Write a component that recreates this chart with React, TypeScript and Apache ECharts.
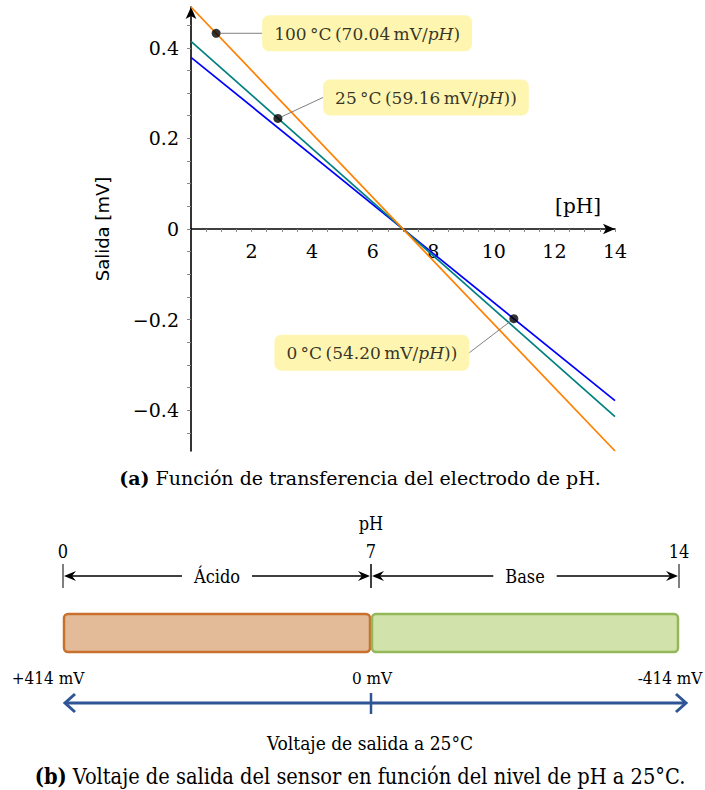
import React, { useEffect, useRef } from 'react';
import * as echarts from 'echarts';

// ---- Data ----
const phEnds = [0, 14];
const salida0C = [0.379, -0.379];
const salida25C = [0.414, -0.414];
const salida100C = [0.49, -0.49];
const seriesNames = ['0 °C', '25 °C', '100 °C'];

const markerPH = [0.83, 2.87, 10.66];
const markerSalida = [0.432, 0.244, -0.198];
const markerLabels = [
  '100\u2009°C\u2009(70.04\u2009mV/{it|pH})',
  '25\u2009°C\u2009(59.16\u2009mV/{it|pH}))',
  '0\u2009°C\u2009(54.20\u2009mV/{it|pH}))',
];

const xTickLabels = [2, 4, 6, 8, 10, 12, 14];
const xTicks = [0.5, 1, 1.5, 2, 2.5, 3, 3.5, 4, 4.5, 5, 5.5, 6, 6.5, 7, 7.5, 8, 8.5, 9, 9.5, 10, 10.5, 11, 11.5, 12, 12.5, 13, 13.5, 14];
const yTickLabels = [-0.4, -0.2, 0, 0.2, 0.4];
const yTicks = [-0.45, -0.4, -0.35, -0.3, -0.25, -0.2, -0.15, -0.1, -0.05, 0, 0.05, 0.1, 0.15, 0.2, 0.25, 0.3, 0.35, 0.4, 0.45];

const rangeStart = [0, 7];
const rangeEnd = [7, 14];
const rangeNames = ['Ácido', 'Base'];
const phScaleLabels = [0, 7, 14];
const voltageLabels = ['+414 mV', '0 mV', '-414 mV'];

// ---- Styles ----
const SERIF = '"DejaVu Serif", serif';
const COND = '"DejaVu Serif Condensed", "DejaVu Serif", serif';
const lineColors = ['#0000ff', '#008080', '#ff8000'];
const labelOffsets = [
  [151, 0],
  [148, -21],
  [-142, 34],
];
const rangeFill = ['#e3bb98', '#d1e2aa'];
const rangeStroke = ['#c8702c', '#94b75a'];

export default function App() {
  const ref = useRef<HTMLDivElement>(null);
  useEffect(() => {
    if (!ref.current) return;
    const chart = echarts.init(ref.current, undefined, { renderer: 'svg' });
    const lineData = [salida0C, salida25C, salida100C];
    const L = 63, R = 679, MID = (L + R) / 2;
    const GT = 7, GH = 444;
    const zeroOffset = GH / 2; // y = 0 lies in the middle of the symmetric range
    const option: any = {
      animation: false,
      grid: [
        { left: 191, top: GT, width: 424, height: GH, outerBoundsMode: 'none' },
        { left: L, top: 614, width: R - L, height: 38, outerBoundsMode: 'none' },
      ],
      xAxis: [
        {
          gridIndex: 0, type: 'value', min: 0, max: 14, position: 'bottom', offset: -zeroOffset,
          axisLine: { onZero: false, lineStyle: { color: '#000', width: 1.6 }, symbol: ['none', 'arrow'], symbolSize: [8, 12] },
          axisTick: { show: true, customValues: xTicks, length: 3, lineStyle: { color: '#888', width: 1 } },
          axisLabel: { customValues: xTickLabels, margin: 12, color: '#000', fontFamily: SERIF, fontSize: 19 },
          splitLine: { show: false },
        },
        {
          gridIndex: 1, type: 'value', min: 0, max: 14, position: 'top', offset: 38,
          axisLine: { show: false }, axisTick: { show: false }, splitLine: { show: false },
          axisLabel: { customValues: phScaleLabels, margin: 16, color: '#000', fontFamily: COND, fontSize: 18 },
          name: 'pH', nameLocation: 'middle', nameGap: 44,
          nameTextStyle: { color: '#000', fontFamily: COND, fontSize: 18 },
        },
      ],
      yAxis: [
        {
          gridIndex: 0, type: 'value', min: -0.49, max: 0.49,
          name: 'Salida [mV]', nameLocation: 'middle', nameGap: 80, nameRotate: 90,
          nameTextStyle: { color: '#000', fontFamily: '"DejaVu Sans", sans-serif', fontSize: 18 },
          axisLine: { onZero: false, lineStyle: { color: '#000', width: 1.6 }, symbol: ['none', 'arrow'], symbolSize: [8, 12] },
          axisTick: { show: true, customValues: yTicks, length: 4, lineStyle: { color: '#888', width: 1 } },
          axisLabel: {
            customValues: yTickLabels, margin: 12, color: '#000', fontFamily: SERIF, fontSize: 19,
            formatter: (v: number) => (v < 0 ? '\u2212' + String(Math.abs(v)) : String(v)),
          },
          splitLine: { show: false },
        },
        { gridIndex: 1, type: 'value', min: 0, max: 1, show: false },
      ],
      series: [
        ...lineData.map((d, i) => ({
          type: 'line', name: seriesNames[i], xAxisIndex: 0, yAxisIndex: 0,
          data: phEnds.map((x, j) => [x, d[j]]),
          showSymbol: false, symbol: 'none',
          lineStyle: { color: lineColors[i], width: 1.7 },
          z: 3,
        })),
        {
          type: 'scatter', xAxisIndex: 0, yAxisIndex: 0, z: 5,
          data: markerPH.map((x, i) => [x, markerSalida[i]]),
          symbolSize: 9, itemStyle: { color: '#000' },
          label: {
            show: true, position: 'inside',
            formatter: (p: any) => markerLabels[p.dataIndex],
            color: '#000', fontFamily: SERIF, fontSize: 17,
            backgroundColor: '#fdf39c', borderRadius: 7, padding: [10, 12, 9, 12],
            rich: { it: { fontStyle: 'italic', fontFamily: SERIF, fontSize: 17, color: '#000' } },
          },
          labelLine: { show: true, lineStyle: { color: '#808080', width: 1 } },
          labelLayout: (p: any) => ({ dx: labelOffsets[p.dataIndex][0], dy: labelOffsets[p.dataIndex][1] }),
        },
        {
          type: 'custom', xAxisIndex: 1, yAxisIndex: 1, clip: false,
          data: rangeStart.map((s, i) => [s, rangeEnd[i]]),
          encode: { x: [0, 1] },
          renderItem: (params: any, api: any) => {
            const i = params.dataIndex;
            const tl = api.coord([api.value(0), 1]);
            const br = api.coord([api.value(1), 0]);
            const x0 = tl[0], x1 = br[0], y0 = tl[1], y1 = br[1];
            const ya = y0 - 38;
            const mid = (x0 + x1) / 2;
            return {
              type: 'group',
              children: [
                {
                  type: 'rect',
                  shape: { x: x0 + 1, y: y0, width: x1 - x0 - 2, height: y1 - y0, r: 4 },
                  style: { fill: rangeFill[i], stroke: rangeStroke[i], lineWidth: 2.5 },
                },
                { type: 'line', shape: { x1: x0, y1: ya - 12, x2: x0, y2: ya + 12 }, style: { stroke: '#000', lineWidth: 1 } },
                { type: 'line', shape: { x1: x1, y1: ya - 12, x2: x1, y2: ya + 12 }, style: { stroke: '#000', lineWidth: 1 } },
                { type: 'line', shape: { x1: x0 + 6, y1: ya, x2: x1 - 6, y2: ya }, style: { stroke: '#000', lineWidth: 1.4 } },
                { type: 'polygon', shape: { points: [[x0 + 1, ya], [x0 + 13, ya - 5], [x0 + 9, ya], [x0 + 13, ya + 5]] }, style: { fill: '#000' } },
                { type: 'polygon', shape: { points: [[x1 - 1, ya], [x1 - 13, ya - 5], [x1 - 9, ya], [x1 - 13, ya + 5]] }, style: { fill: '#000' } },
                {
                  type: 'text', x: mid, y: ya,
                  style: {
                    text: rangeNames[i], align: 'center', verticalAlign: 'middle',
                    fill: '#000', font: '18px "DejaVu Serif Condensed", "DejaVu Serif", serif',
                    backgroundColor: '#fff', padding: [0, 12],
                  },
                },
              ],
            };
          },
          z: 2,
        },
      ],
      graphic: [
        { type: 'text', x: 578, y: 206, style: { text: '[pH]', align: 'center', verticalAlign: 'middle', fill: '#000', font: '20px "DejaVu Serif", serif' } },
        {
          type: 'text', x: 360, y: 478,
          style: {
            text: '{b|(a)} Función de transferencia del electrodo de pH.', align: 'center', verticalAlign: 'middle',
            fill: '#000', font: '19px "DejaVu Serif", serif',
            rich: { b: { fontWeight: 'bold', fontFamily: SERIF, fontSize: 19, fill: '#000' } },
          },
        },
        { type: 'text', x: 48, y: 678, style: { text: voltageLabels[0], align: 'center', verticalAlign: 'middle', fill: '#000', font: '17px ' + COND } },
        { type: 'text', x: 372, y: 678, style: { text: voltageLabels[1], align: 'center', verticalAlign: 'middle', fill: '#000', font: '17px ' + COND } },
        { type: 'text', x: 670, y: 678, style: { text: voltageLabels[2], align: 'center', verticalAlign: 'middle', fill: '#000', font: '17px ' + COND } },
        { type: 'line', shape: { x1: L + 2, y1: 703, x2: R + 6, y2: 703 }, style: { stroke: '#2f5597', lineWidth: 3 } },
        { type: 'polyline', shape: { points: [[L + 12, 694], [L + 2, 703], [L + 12, 712]] }, style: { stroke: '#2f5597', lineWidth: 3, fill: 'none' } },
        { type: 'polyline', shape: { points: [[R - 3, 694], [R + 7, 703], [R - 3, 712]] }, style: { stroke: '#2f5597', lineWidth: 3, fill: 'none' } },
        { type: 'line', shape: { x1: MID, y1: 693, x2: MID, y2: 714 }, style: { stroke: '#2f5597', lineWidth: 2.5 } },
        { type: 'text', x: 370, y: 743, style: { text: 'Voltaje de salida a 25°C', align: 'center', verticalAlign: 'middle', fill: '#000', font: '19px ' + COND } },
        {
          type: 'text', x: 360, y: 776,
          style: {
            text: '{b|(b)} Voltaje de salida del sensor en función del nivel de pH a 25°C.', align: 'center', verticalAlign: 'middle',
            fill: '#000', font: '21.6px ' + COND,
            rich: { b: { fontWeight: 'bold', fontFamily: COND, fontSize: 21.6, fill: '#000' } },
          },
        },
      ],
    };
    chart.setOption(option);
    return () => chart.dispose();
  }, []);
  return <div ref={ref} style={{ position: 'fixed', left: 0, top: 0, width: 705, height: 790, background: '#fff' }} />;
}
